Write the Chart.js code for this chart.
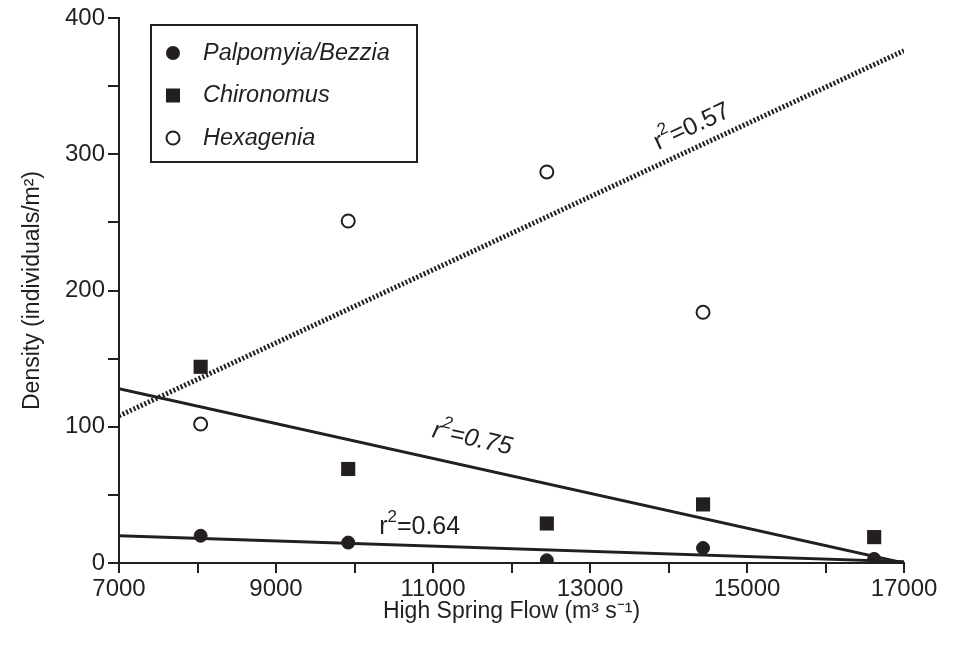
<!DOCTYPE html>
<html>
<head>
<meta charset="utf-8">
<script src="https://cdn.jsdelivr.net/npm/chart.js@4"></script>
<style>
  body { margin: 0; background: #fff; }
</style>
</head>
<body>
<canvas id="flowChart" width="954" height="647"></canvas>
<script>
const INK = '#231f20';
const FONT = '"Liberation Sans", Arial, Helvetica, sans-serif';

// high spring flow (m3 s-1) of each sampled year
const flow = [8040, 9920, 12450, 14440, 16620];
const palpomyia = [20, 15, 2, 11, 3];
const chironomus = [144, 69, 29, 43, 19];
const hexagenia = [102, 251, 287, 184]; // no point for the last year

// regression line ends
const fitX = [7000, 17000];
const palpomyiaFit = [20, 1];
const chironomusFit = [128, 0];
const hexageniaFit = [108, 376];

const legendNames = ['Palpomyia/Bezzia', 'Chironomus', 'Hexagenia'];
// r2 labels, anchored in data units; rotated along their fit line
const r2Labels = [
  { value: '0.57', x: 14300, y: 320, line: hexageniaFit, italic: false },
  { value: '0.75', x: 11500, y: 91, line: chironomusFit, italic: true },
  { value: '0.64', x: 10830, y: 26, line: null, italic: false }
];

function pts(xs, ys) {
  return ys.map((y, i) => ({ x: xs[i], y: y }));
}

function drawR2(ctx, value, italic) {
  const st = italic ? 'italic ' : '';
  const big = st + '25px ' + FONT;
  const small = st + '17px ' + FONT;
  ctx.fillStyle = INK;
  ctx.textBaseline = 'middle';
  ctx.textAlign = 'left';
  ctx.font = big;
  const w1 = ctx.measureText('r').width;
  const w3 = ctx.measureText('=' + value).width;
  ctx.font = small;
  const w2 = ctx.measureText('2').width;
  let cx = -(w1 + w2 + w3) / 2;
  ctx.font = big;
  ctx.fillText('r', cx, 0);
  cx += w1;
  ctx.font = small;
  ctx.fillText('2', cx, -10);
  cx += w2;
  ctx.font = big;
  ctx.fillText('=' + value, cx, 0);
}

const extras = {
  id: 'extras',
  afterDatasetsDraw(chart) {
    const { ctx, chartArea, scales: { x, y } } = chart;
    ctx.save();

    r2Labels.forEach(l => {
      let angle = 0;
      if (l.line) {
        angle = Math.atan2(
          y.getPixelForValue(l.line[1]) - y.getPixelForValue(l.line[0]),
          x.getPixelForValue(fitX[1]) - x.getPixelForValue(fitX[0]));
      }
      ctx.save();
      ctx.translate(x.getPixelForValue(l.x), y.getPixelForValue(l.y));
      ctx.rotate(angle);
      drawR2(ctx, l.value, l.italic);
      ctx.restore();
    });

    // boxed legend, top left
    const lx = chartArea.left + 32, ly = chartArea.top + 7;
    ctx.fillStyle = '#fff';
    ctx.fillRect(lx, ly, 266, 137);
    ctx.strokeStyle = INK;
    ctx.lineWidth = 2;
    ctx.strokeRect(lx, ly, 266, 137);
    legendNames.forEach((name, i) => {
      const mx = lx + 22, my = ly + 28 + i * 42.5;
      ctx.fillStyle = INK;
      if (i === 0) {
        ctx.beginPath(); ctx.arc(mx, my, 7, 0, Math.PI * 2); ctx.fill();
      } else if (i === 1) {
        ctx.fillRect(mx - 7, my - 7, 14, 14);
      } else {
        ctx.beginPath(); ctx.arc(mx, my, 6.5, 0, Math.PI * 2);
        ctx.lineWidth = 2; ctx.stroke();
      }
      ctx.font = 'italic 23.5px ' + FONT;
      ctx.textAlign = 'left';
      ctx.textBaseline = 'middle';
      ctx.fillText(name, lx + 52, my);
    });
    ctx.restore();
  }
};

const ctx = document.getElementById('flowChart').getContext('2d');
new Chart(ctx, {
  type: 'scatter',
  data: {
    datasets: [
      { label: 'Palpomyia/Bezzia', data: pts(flow, palpomyia), order: 0,
        pointStyle: 'circle', pointRadius: 6.5, backgroundColor: INK, borderColor: INK, borderWidth: 1 },
      { label: 'Chironomus', data: pts(flow, chironomus), order: 0,
        pointStyle: 'rect', pointRadius: 10, backgroundColor: INK, borderColor: INK, borderWidth: 0 },
      { label: 'Hexagenia', data: pts(flow, hexagenia), order: 0,
        pointStyle: 'circle', pointRadius: 6.5, backgroundColor: '#fff', borderColor: INK, borderWidth: 2 },
      { label: 'Palpomyia fit', data: pts(fitX, palpomyiaFit), showLine: true, order: 1,
        pointRadius: 0, borderColor: INK, borderWidth: 3 },
      { label: 'Chironomus fit', data: pts(fitX, chironomusFit), showLine: true, order: 1,
        pointRadius: 0, borderColor: INK, borderWidth: 3 },
      { label: 'Hexagenia fit', data: pts(fitX, hexageniaFit), showLine: true, order: 1,
        pointRadius: 0, borderColor: INK, borderWidth: 5, borderDash: [2, 2] }
    ]
  },
  options: {
    responsive: false,
    animation: false,
    layout: { padding: { top: 18, right: 50, left: 0, bottom: 0 } },
    plugins: {
      legend: { display: false },
      tooltip: { enabled: false }
    },
    scales: {
      x: {
        type: 'linear',
        min: 7000,
        max: 17000,
        afterFit: s => { s.height = 84; },
        ticks: {
          stepSize: 1000,
          autoSkip: false,
          maxRotation: 0,
          padding: 2,
          color: INK,
          font: { family: FONT, size: 24 },
          callback: v => ((v - 7000) % 2000 === 0 ? String(v) : '')
        },
        grid: { drawOnChartArea: false, tickLength: 10, color: INK, lineWidth: 2 },
        border: { color: INK, width: 2 },
        title: {
          display: true,
          text: 'High Spring Flow (m³ s⁻¹)',
          color: INK,
          font: { family: FONT, size: 23 },
          padding: { top: 0, bottom: 22 }
        }
      },
      y: {
        min: 0,
        max: 400,
        afterFit: s => { s.width = 119; },
        ticks: {
          stepSize: 50,
          autoSkip: false,
          padding: 3,
          color: INK,
          font: { family: FONT, size: 24 },
          callback: v => (v % 100 === 0 ? String(v) : '')
        },
        grid: { drawOnChartArea: false, tickLength: 11, color: INK, lineWidth: 2 },
        border: { color: INK, width: 2 },
        title: {
          display: true,
          text: 'Density (individuals/m²)',
          color: INK,
          font: { family: FONT, size: 23 },
          padding: { top: 19, bottom: 0 }
        }
      }
    }
  },
  plugins: [extras]
});
</script>
</body>
</html>
